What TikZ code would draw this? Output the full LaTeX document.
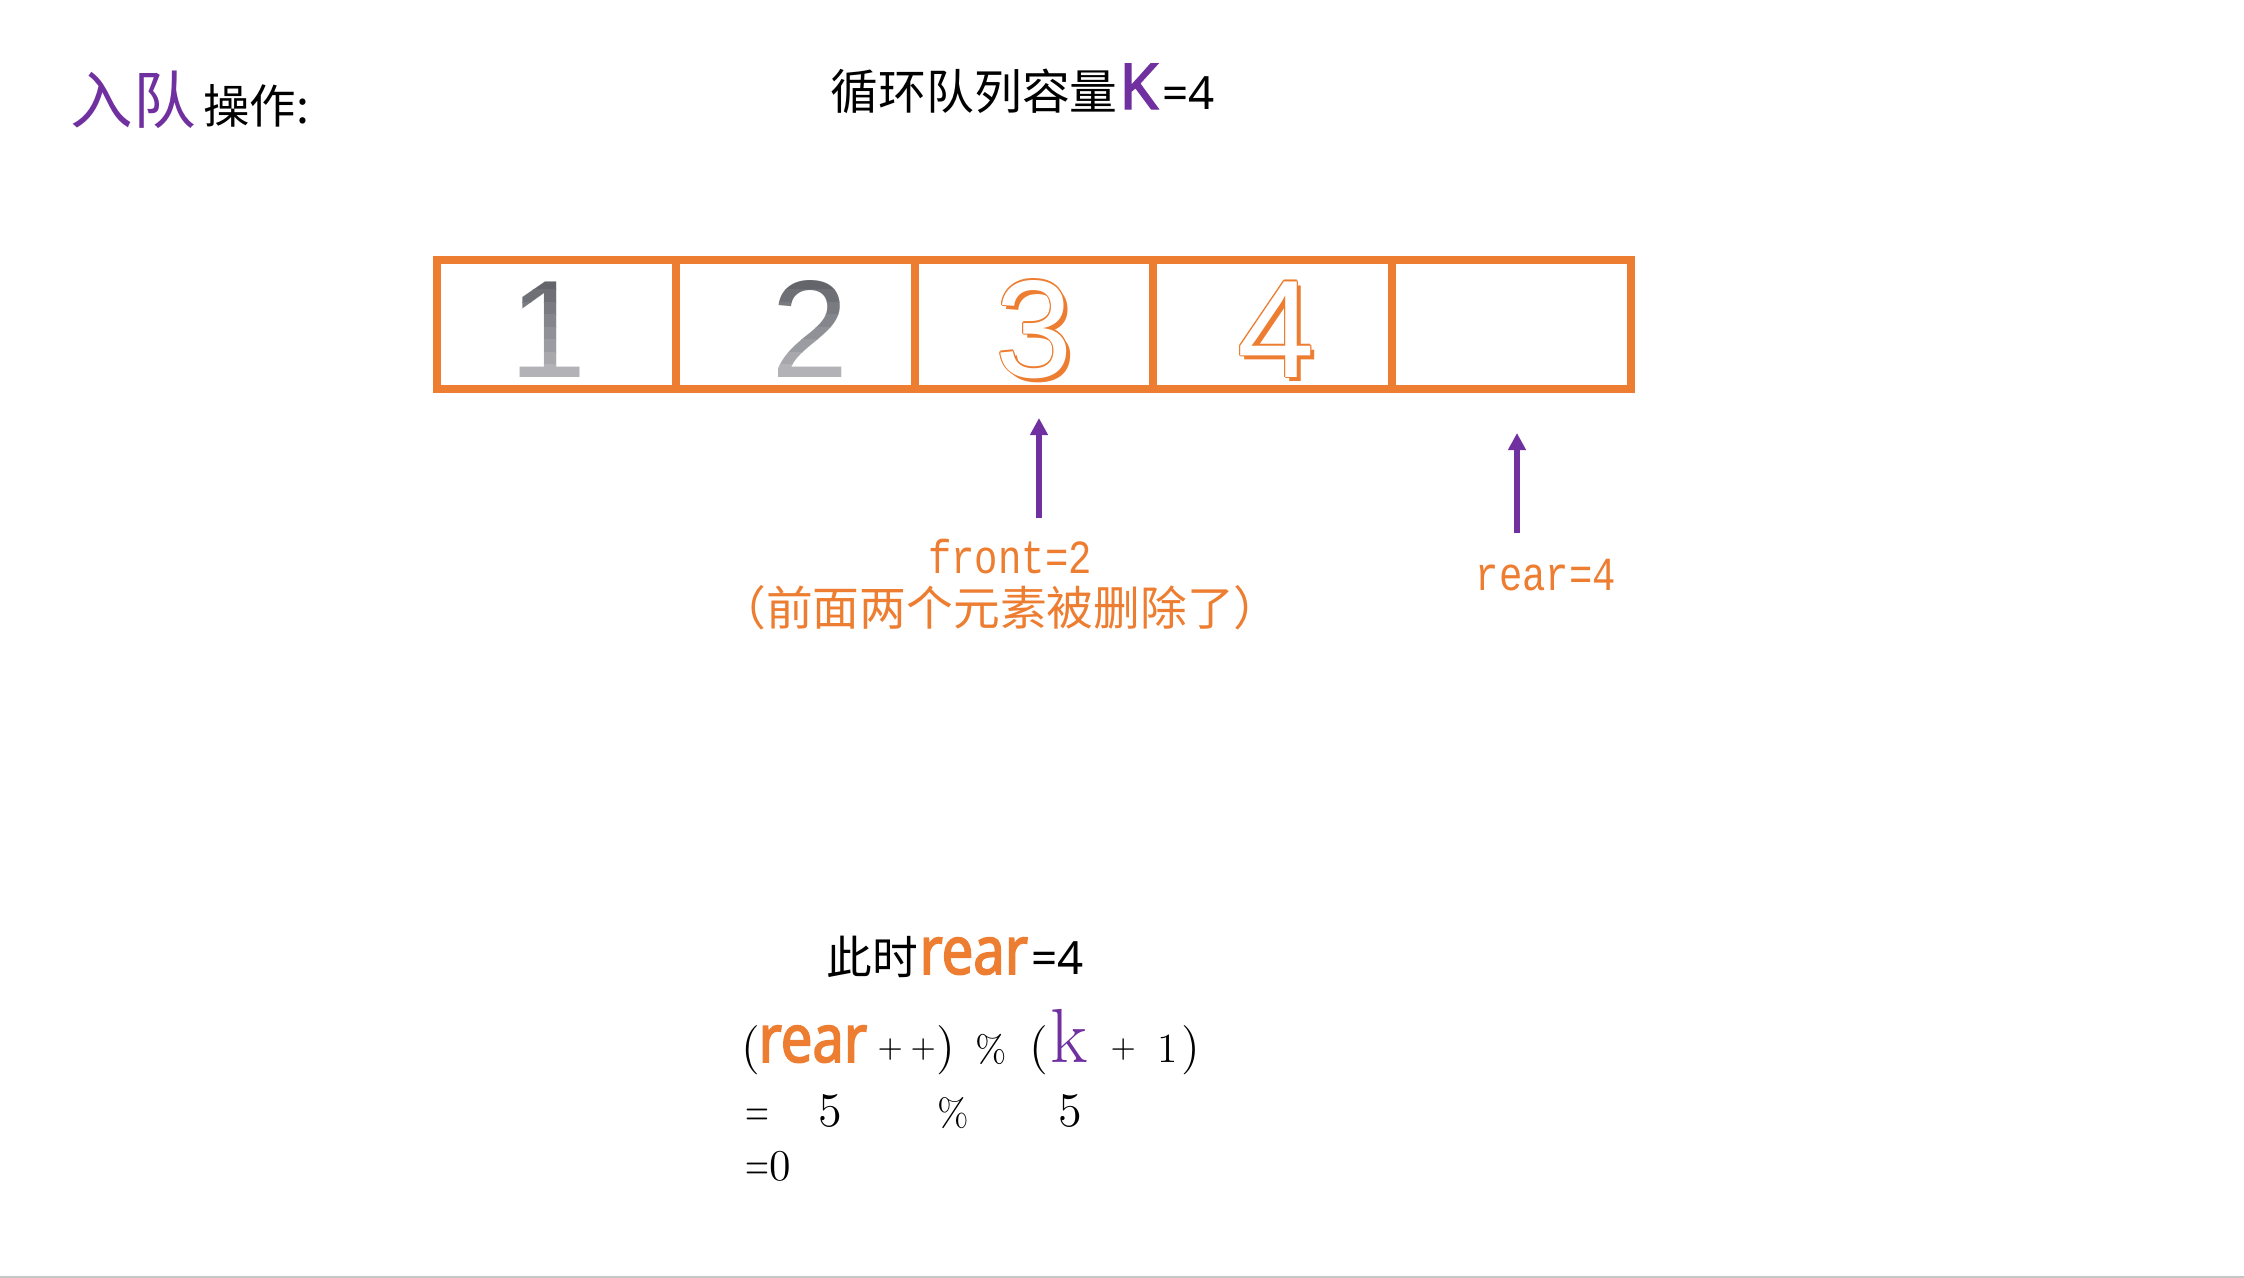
\documentclass[tikz,border=0pt]{standalone}
\usepackage{fontspec}
\usetikzlibrary{arrows.meta,calc}

\newfontfamily\cjkfont{Noto Sans CJK SC}
\newfontfamily\headfont{Noto Sans}
\newfontfamily\heavyfont[FakeBold=2.2]{Noto Sans}
\newfontfamily\boldfont[FakeStretch=0.84,FakeBold=2.4]{Noto Sans}
\newfontfamily\codefont[FakeStretch=0.82]{Liberation Mono}
\newfontfamily\digitfont{Liberation Sans}

\definecolor{qorange}{RGB}{237,125,49}
\definecolor{qpurple}{RGB}{112,48,160}
\definecolor{qdark}{RGB}{88,90,95}
\definecolor{qlight}{RGB}{190,190,195}

\newcommand\fs[1]{\fontsize{#1}{#1}\selectfont}

\begin{document}
\begin{tikzpicture}[
    x=0.01cm, y=-0.01cm,
    cell/.style={draw=qorange, line width=0.08cm, minimum width=2.388cm, minimum height=1.285cm, inner sep=0pt},
    digit/.style={font=\digitfont\fs{39.5}, anchor=base, inner sep=0pt},
    ptr/.style={draw=qpurple, line width=0.055cm, -{Triangle[length=0.17cm,width=0.17cm]}},
    tok/.style={anchor=base west, inner sep=0pt},
    note/.style={text=qorange, anchor=base, inner sep=0pt},
  ]
  \useasboundingbox (0,0) rectangle (2244,1278);

  % Tiêu đề
  \node[tok, font=\cjkfont\fs{17.8}, text=qpurple] (optitle) at (70,123) {入队};
  \node[tok, font=\cjkfont\fs{13.2}] (opname) at ([xshift=0.06cm]optitle.base east) {操作:};
  \node[tok, font=\cjkfont\fs{13.6}] (qtitle) at (830,109) {循环队列容量};
  \node[tok, font=\heavyfont\fs{18}, text=qpurple] (qcap) at (qtitle.base east) {K};
  \node[tok, font=\headfont\fs{13}] (qcapval) at ([xshift=0.03cm]qcap.base east) {=4};

  % Năm ô của hàng đợi
  \foreach \i in {1,...,5}
    \node[cell] (c\i) at ({437+238.8*(\i-0.5)},324.75) {};

  % Số 1, 2: màu xám chuyển dần
  \foreach \i/\dx in {1/-8.5, 2/15} {
    \foreach \b in {0,...,9} {
      \pgfmathtruncatemacro{\mix}{100-11*\b}
      \begin{scope}
        \clip ($(c\i.west)+(0,{-60+12.5*\b})$) rectangle ($(c\i.east)+(0,{-47.5+12.5*\b})$);
        \node[digit, text=qdark!\mix!qlight] (d\i-\b) at ($(c\i.center)+(\dx,52.25)$) {\i};
      \end{scope}
    }
  }

  % Số 3, 4: viền cam có bóng
  \foreach \i/\dx in {3/0, 4/3.5} {
    \node[digit, text=qorange] (d\i-s) at ($(c\i.center)+(\dx+4,56.25)$) {\i};
    \foreach \ox/\oy [count=\k] in {1.3/0, -1.3/0, 0/1.3, 0/-1.3, 0.9/0.9, -0.9/0.9, 0.9/-0.9, -0.9/-0.9}
      \node[digit, text=qorange] (d\i-o\k) at ($(c\i.center)+(\dx+\ox,52.25+\oy)$) {\i};
    \node[digit, text=white] (d\i) at ($(c\i.center)+(\dx,52.25)$) {\i};
  }

  % Con trỏ front và rear
  \coordinate (fhead) at (1039,418);
  \coordinate (ftail) at (1039,518);
  \coordinate (rhead) at (1517,433);
  \coordinate (rtail) at (1517,533);
  \draw[ptr] (ftail) -- (fhead);
  \draw[ptr] (rtail) -- (rhead);

  \node[note, font=\codefont\fs{13.5}] (flabel) at (1010,573) {front=2};
  \node[note, font=\cjkfont\fs{13.3}] (fnote) at (1000,625) {（前面两个元素被删除了）};
  \node[note, font=\codefont\fs{13.5}] (rlabel) at (1546,590) {rear=4};

  % Phép tính rear mới
  \node[tok, font=\cjkfont\fs{13}] (nowtxt) at (826,974) {此时};
  \node[tok, font=\boldfont\fs{19}, text=qorange] (nowrear) at (nowtxt.base east) {rear};
  \node[tok, font=\headfont\fs{13}] (nowval) at ([xshift=0.02cm]nowrear.base east) {=4};

  \foreach \x/\y/\t [count=\n] in {
      741/1062/{\fs{14}(},
      758/1062/{\boldfont\fs{19}\color{qorange}rear},
      877/1057/{\fs{9}+},
      910/1057/{\fs{9}+},
      936/1062/{\fs{14})},
      975/1062/{\fs{10.7}\%},
      1029/1062/{\fs{14}(},
      1050/1062/{\fs{21.8}\color{qpurple}k},
      1110/1057/{\fs{9}+},
      1157/1062/{\fs{11.8}1},
      1181/1062/{\fs{14})},
      745/1126/{\fs{13.7}\scalebox{0.65}[1]{=}},
      818/1126/{\fs{13.7}5},
      937/1126/{\fs{11}\%},
      1058/1126/{\fs{13.7}5},
      745/1180/{\fs{13.7}\scalebox{0.65}[1]{=}},
      769/1180/{\fs{12.5}0}}
    \node[tok] (calc\n) at (\x,\y) {\t};

  \draw[gray!45, line width=0.02cm] (0,1277) -- (2244,1277);
\end{tikzpicture}
\end{document}
